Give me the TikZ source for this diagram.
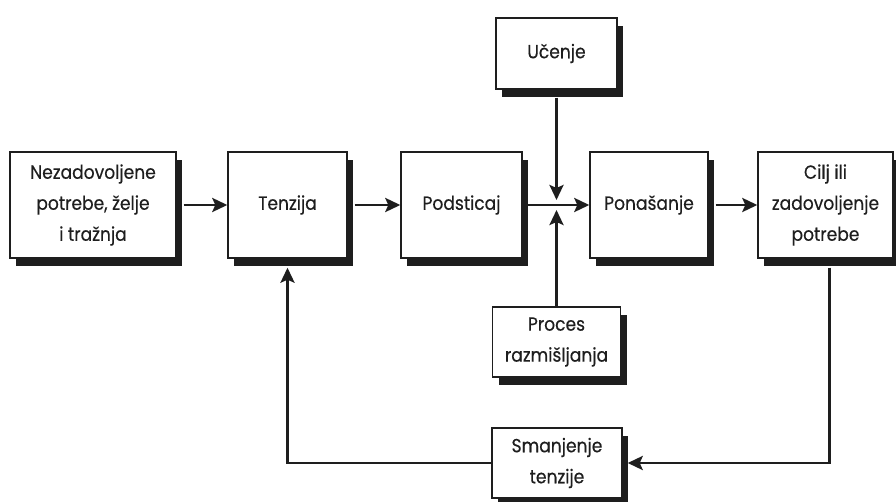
\documentclass[tikz,border=0pt]{standalone}
\usepackage{fontspec}
\setmainfont{Poppins}[FakeStretch=0.9,FakeBold=0.4]
\usetikzlibrary{shadows,arrows.meta}
\definecolor{ink}{HTML}{1E1E1E}
\tikzset{
  box/.style={draw=ink, line width=1.4pt, fill=white, inner sep=0pt, align=center,
    text=ink, font=\fontsize{19}{31}\selectfont,
    drop shadow={shadow xshift=6pt, shadow yshift=-8pt, fill=ink, opacity=1}},
  conn/.style={draw=ink, line width=2.8pt},
  arr/.style={conn, -{Stealth[length=15pt,width=14pt,inset=3pt]}}
}
\begin{document}
\begin{tikzpicture}[x=1pt,y=-1pt]
\useasboundingbox (0,0) rectangle (896,502);
\node[box, minimum width=166pt, minimum height=106pt] (n1) at (93,205) {Nezadovoljene\\potrebe, želje\\i tražnja};
\node[box, minimum width=119pt, minimum height=106pt] (ten) at (287.5,205) {Tenzija};
\node[box, minimum width=121pt, minimum height=106pt] (pod) at (461.5,205) {Podsticaj};
\node[box, minimum width=118pt, minimum height=106pt] (pon) at (649,205) {Ponašanje};
\node[box, minimum width=135pt, minimum height=106pt] (cil) at (825.5,205) {Cilj ili\\zadovoljenje\\potrebe};
\node[box, minimum width=121pt, minimum height=71pt] (uc) at (556.5,53.5) {Učenje};
\node[box, minimum width=128pt, minimum height=70pt] (pr) at (556.5,342) {Proces\\razmišljanja};
\node[box, minimum width=130pt, minimum height=70pt] (sm) at (557,463) {Smanjenje\\tenzije};
\coordinate (jt) at (556.5,200);
\coordinate (jb) at (556.5,210);
\draw[arr] ([xshift=7pt]n1.east) -- (ten.west);
\draw[arr] ([xshift=7pt]ten.east) -- (pod.west);
\draw[arr] ([xshift=5pt]pod.east) -- (pon.west);
\draw[arr] ([xshift=7pt]pon.east) -- (cil.west);
\draw[arr] ([yshift=-8pt]uc.south) -- (jt);
\draw[arr] (pr.north) -- (jb);
\draw[arr] ([xshift=4pt,yshift=-9pt]cil.south) |- ([xshift=5pt]sm.east);
\draw[arr] (sm.west) -| ([yshift=-9pt]ten.south);
\end{tikzpicture}
\end{document}
